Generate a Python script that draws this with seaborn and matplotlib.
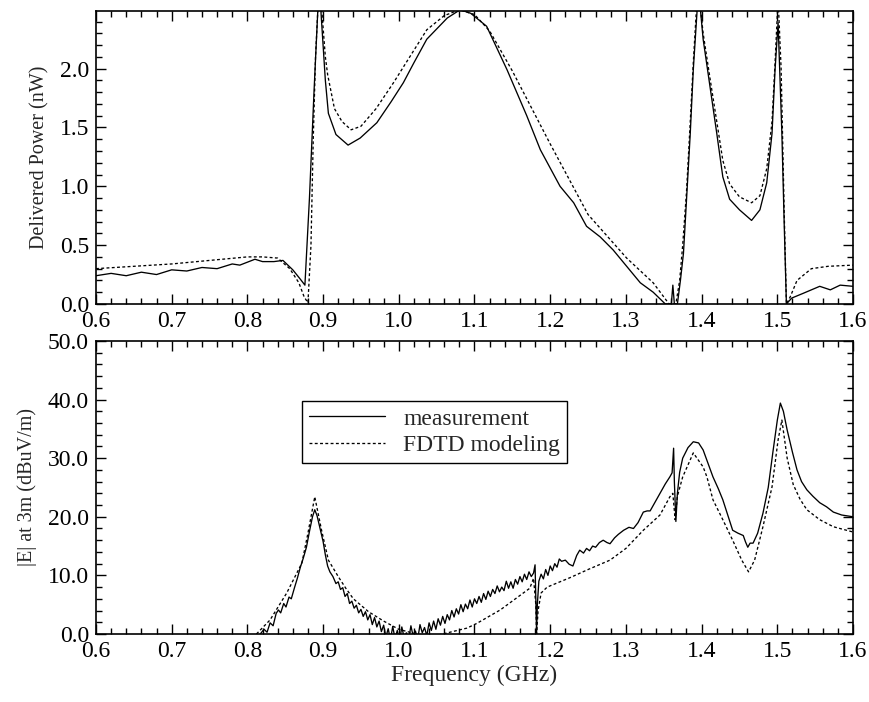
import numpy as np
import pandas as pd
import matplotlib
matplotlib.use("Agg")
import matplotlib.pyplot as plt
import seaborn as sns
from matplotlib.ticker import MultipleLocator, FormatStrFormatter

# Delivered power, measurement (GHz, nW)
pow_meas_f = [0.600, 0.620, 0.640, 0.660, 0.680, 0.700, 0.720, 0.740, 0.760, 0.780,
              0.790, 0.810, 0.820, 0.835, 0.847, 0.860, 0.870, 0.876, 0.882, 0.888,
              0.893, 0.896, 0.899, 0.903, 0.907, 0.917, 0.933, 0.949, 0.971, 0.990,
              1.006, 1.020, 1.037, 1.064, 1.081, 1.095, 1.116, 1.143, 1.169, 1.187,
              1.213, 1.231, 1.248, 1.266, 1.283, 1.301, 1.319, 1.336, 1.352, 1.360,
              1.362, 1.364, 1.368, 1.372, 1.376, 1.380, 1.385, 1.389, 1.394, 1.397,
              1.402, 1.411, 1.420, 1.428, 1.437, 1.450, 1.466, 1.477, 1.486, 1.493,
              1.497, 1.501, 1.506, 1.509, 1.512, 1.519, 1.534, 1.556, 1.570, 1.583,
              1.600]
pow_meas = [0.24, 0.26, 0.24, 0.27, 0.25, 0.29, 0.28, 0.31, 0.30, 0.34,
            0.33, 0.38, 0.36, 0.36, 0.37, 0.29, 0.21, 0.16, 0.90, 1.80,
            2.49, 2.60, 2.30, 1.90, 1.62, 1.44, 1.35, 1.41, 1.54, 1.72,
            1.88, 2.05, 2.25, 2.43, 2.50, 2.47, 2.36, 1.99, 1.60, 1.31,
            1.00, 0.86, 0.66, 0.57, 0.46, 0.32, 0.18, 0.10, 0.00, 0.00,
            0.16, 0.00, 0.00, 0.20, 0.43, 0.88, 1.45, 1.99, 2.49, 2.60,
            2.25, 1.85, 1.45, 1.08, 0.89, 0.80, 0.71, 0.80, 1.03, 1.45,
            1.99, 2.39, 1.45, 0.70, 0.00, 0.05, 0.09, 0.15, 0.12, 0.16,
            0.15]

# Delivered power, FDTD
pow_fdtd_f = [0.600, 0.650, 0.700, 0.750, 0.800, 0.820, 0.840, 0.856, 0.868, 0.875,
              0.880, 0.884, 0.887, 0.890, 0.893, 0.897, 0.900, 0.903, 0.906, 0.915,
              0.925, 0.937, 0.950, 0.970, 0.993, 1.037, 1.060, 1.080, 1.100, 1.120,
              1.150, 1.200, 1.250, 1.301, 1.336, 1.357, 1.366, 1.371, 1.375, 1.380,
              1.385, 1.389, 1.393, 1.397, 1.402, 1.411, 1.420, 1.428, 1.437, 1.450,
              1.466, 1.477, 1.486, 1.493, 1.497, 1.501, 1.505, 1.509, 1.512, 1.517,
              1.526, 1.545, 1.567, 1.600]
pow_fdtd = [0.30, 0.32, 0.34, 0.37, 0.40, 0.40, 0.39, 0.30, 0.18, 0.06,
            0.01, 0.50, 1.40, 2.10, 2.49, 2.60, 2.35, 2.10, 1.95, 1.66,
            1.55, 1.48, 1.51, 1.66, 1.88, 2.33, 2.45, 2.50, 2.46, 2.32,
            1.98, 1.36, 0.76, 0.39, 0.18, 0.00, 0.00, 0.20, 0.50, 0.95,
            1.55, 2.05, 2.49, 2.60, 2.30, 1.92, 1.55, 1.22, 1.02, 0.91,
            0.86, 0.92, 1.15, 1.55, 2.05, 2.60, 2.00, 0.80, 0.00, 0.06,
            0.20, 0.30, 0.32, 0.33]

# |E| at 3m, measurement (dBuV/m)
e_meas_f = [0.815, 0.817, 0.822, 0.826, 0.830, 0.834, 0.838, 0.841, 0.844, 0.848,
            0.851, 0.855, 0.858, 0.862, 0.866, 0.870, 0.874, 0.878, 0.882, 0.886,
            0.889, 0.892, 0.896, 0.900, 0.903, 0.906, 0.909, 0.913, 0.917, 0.920,
            0.923, 0.926, 0.929, 0.932, 0.935, 0.938, 0.941, 0.944, 0.947, 0.950,
            0.953, 0.956, 0.959, 0.962, 0.965, 0.968, 0.971, 0.974, 0.977, 0.980,
            0.983, 0.986, 0.989, 0.992, 0.995, 0.998, 1.001, 1.004, 1.007, 1.010,
            1.013, 1.016, 1.019, 1.022, 1.025, 1.028, 1.031, 1.034, 1.037, 1.040,
            1.043, 1.046, 1.049, 1.052, 1.055, 1.058, 1.061, 1.064, 1.067, 1.070,
            1.073, 1.076, 1.079, 1.082, 1.085, 1.088, 1.091, 1.094, 1.097, 1.100,
            1.103, 1.106, 1.109, 1.112, 1.115, 1.118, 1.121, 1.124, 1.127, 1.130,
            1.133, 1.136, 1.139, 1.142, 1.145, 1.148, 1.151, 1.154, 1.157, 1.160,
            1.163, 1.166, 1.169, 1.172, 1.175, 1.178, 1.180, 1.181, 1.182, 1.183,
            1.185, 1.188, 1.191, 1.194, 1.197, 1.200, 1.203, 1.206, 1.209, 1.212,
            1.215, 1.220, 1.225, 1.230, 1.235, 1.239, 1.244, 1.248, 1.252, 1.256,
            1.260, 1.265, 1.270, 1.275, 1.279, 1.285, 1.290, 1.297, 1.304, 1.310,
            1.316, 1.323, 1.328, 1.332, 1.339, 1.345, 1.352, 1.358, 1.361, 1.363,
            1.364, 1.366, 1.368, 1.371, 1.375, 1.382, 1.389, 1.396, 1.402, 1.408,
            1.415, 1.422, 1.428, 1.434, 1.441, 1.448, 1.455, 1.458, 1.461, 1.464,
            1.468, 1.474, 1.481, 1.488, 1.494, 1.500, 1.504, 1.508, 1.513, 1.520,
            1.526, 1.532, 1.539, 1.547, 1.556, 1.565, 1.574, 1.585, 1.600]
e_meas = [-1.0, 0.0, 0.8, 0.3, 1.9, 1.4, 3.5, 4.1, 3.6, 5.2,
          4.6, 6.3, 6.0, 7.8, 9.5, 11.4, 13.0, 14.8, 17.5, 20.0,
          21.2, 20.2, 18.0, 15.8, 13.5, 11.6, 10.6, 9.8, 8.6, 8.9,
          7.6, 7.9, 6.4, 6.9, 5.2, 5.6, 4.4, 4.9, 3.6, 4.2,
          3.0, 3.8, 2.4, 3.3, 1.6, 2.8, 1.2, 2.2, 0.4, 1.5,
          -0.5, 0.9, -1.0, 1.3, -0.8, 0.6, -1.2, 1.2, -0.6, 0.2,
          -1.0, 1.4, -0.4, 0.5, -0.9, 1.6, 0.2, 1.1, -0.3, 1.9,
          0.6, 2.2, 0.8, 2.6, 1.5, 3.0, 1.8, 3.3, 2.4, 4.0,
          2.9, 4.3, 3.4, 5.0, 3.8, 5.1, 4.3, 5.8, 4.6, 6.0,
          5.2, 6.4, 5.4, 6.9, 5.9, 7.3, 6.4, 7.6, 6.9, 8.2,
          7.2, 8.0, 7.4, 9.0, 7.8, 8.9, 7.8, 9.3, 8.5, 9.8,
          8.9, 10.2, 9.3, 10.6, 9.8, 10.4, 11.8, 6.0, 0.2, 5.0,
          9.0, 10.2, 9.4, 11.0, 10.0, 11.6, 10.8, 12.0, 11.4, 12.8,
          12.4, 12.6, 11.9, 11.6, 13.4, 14.3, 13.8, 14.6, 14.2, 15.0,
          14.8, 15.6, 16.0, 15.6, 15.4, 16.4, 17.0, 17.7, 18.2, 18.0,
          19.0, 20.8, 21.0, 21.0, 22.6, 24.0, 25.6, 26.8, 27.5, 31.7,
          26.0, 19.2, 24.0, 27.6, 30.0, 31.8, 32.8, 32.6, 31.4, 29.3,
          26.8, 24.8, 22.9, 20.5, 17.7, 17.2, 16.8, 15.7, 14.8, 15.5,
          15.5, 17.2, 20.6, 25.0, 30.9, 36.5, 39.4, 38.0, 34.8, 31.0,
          28.0, 26.0, 24.6, 23.5, 22.4, 21.7, 20.8, 20.3, 20.0]

# |E| at 3m, FDTD
e_fdtd_f = [0.812, 0.830, 0.852, 0.872, 0.880, 0.889, 0.898, 0.907, 0.920, 0.930,
            0.940, 0.960, 0.980, 1.000, 1.020, 1.040, 1.058, 1.090, 1.103, 1.134,
            1.173, 1.178, 1.181, 1.182, 1.184, 1.188, 1.196, 1.226, 1.250, 1.279,
            1.300, 1.323, 1.345, 1.358, 1.362, 1.365, 1.368, 1.375, 1.389, 1.402,
            1.407, 1.415, 1.428, 1.441, 1.453, 1.462, 1.470, 1.481, 1.493, 1.501,
            1.506, 1.513, 1.521, 1.530, 1.539, 1.556, 1.574, 1.600]
e_fdtd = [0.0, 2.4, 7.0, 12.1, 17.2, 23.4, 17.7, 12.6, 9.8, 7.8,
          6.0, 3.8, 2.2, 0.8, 0.1, -0.5, 0.0, 1.0, 1.8, 4.1,
          7.8, 9.5, 5.0, 0.0, 4.0, 7.0, 8.0, 9.6, 11.0, 12.6,
          14.6, 17.7, 20.3, 23.4, 24.0, 19.5, 23.5, 26.8, 30.9, 28.5,
          26.8, 22.9, 19.5, 16.0, 12.6, 10.6, 12.6, 18.3, 25.1, 33.1,
          36.5, 30.0, 25.5, 23.0, 21.2, 19.5, 18.3, 17.4]

sns.set_style("ticks")
plt.rcParams['font.family'] = ['Liberation Serif', 'DejaVu Serif']

fig = plt.figure(figsize=(8.7, 7.02), dpi=100)
ax1 = fig.add_axes([0.1103, 0.567, 0.8702, 0.4174])
ax2 = fig.add_axes([0.1103, 0.0969, 0.8702, 0.4174])

dash = (0, (2.2, 1.8))

sns.lineplot(x=pow_meas_f, y=pow_meas, ax=ax1, color="black", lw=0.95,
             sort=False, estimator=None)
sns.lineplot(x=pow_fdtd_f, y=pow_fdtd, ax=ax1, color="black", lw=0.95,
             linestyle=dash, sort=False, estimator=None)

sns.lineplot(x=e_meas_f, y=e_meas, ax=ax2, color="black", lw=0.95,
             sort=False, estimator=None, label="measurement")
sns.lineplot(x=e_fdtd_f, y=e_fdtd, ax=ax2, color="black", lw=0.95,
             linestyle=dash, sort=False, estimator=None, label="FDTD modeling")

ax1.set_xlim(0.6, 1.6)
ax1.set_ylim(0, 2.49)
ax1.yaxis.set_major_locator(MultipleLocator(0.5))
ax1.yaxis.set_minor_locator(MultipleLocator(0.1))
ax1.set_ylabel("Delivered Power (nW)", fontsize=14.5, labelpad=7)

ax2.set_xlim(0.6, 1.6)
ax2.set_ylim(0, 50)
ax2.yaxis.set_major_locator(MultipleLocator(10))
ax2.yaxis.set_minor_locator(MultipleLocator(2))
ax2.set_ylabel("|E| at 3m (dBuV/m)", fontsize=14.5, labelpad=8)
ax2.set_xlabel("Frequency (GHz)", fontsize=17, labelpad=2)

for ax in (ax1, ax2):
    ax.xaxis.set_major_locator(MultipleLocator(0.1))
    ax.xaxis.set_minor_locator(MultipleLocator(0.02))
    ax.xaxis.set_major_formatter(FormatStrFormatter("%.1f"))
    ax.yaxis.set_major_formatter(FormatStrFormatter("%.1f"))
    ax.tick_params(which="both", direction="in", top=True, right=True,
                   labelsize=17, width=1.0, colors="black", pad=5)
    ax.tick_params(which="major", length=7)
    ax.tick_params(which="minor", length=4)
    for s in ax.spines.values():
        s.set_linewidth(1.2)
        s.set_color("black")

leg = ax2.legend(loc="upper left", bbox_to_anchor=(0.272, 0.795), fontsize=17,
                 frameon=True, fancybox=False, edgecolor="black", framealpha=1,
                 handlelength=3.2, borderpad=0.3, labelspacing=0.2,
                 handletextpad=0.8, borderaxespad=0)
leg.get_frame().set_linewidth(1.0)

fig.savefig("out.png", dpi=100)
